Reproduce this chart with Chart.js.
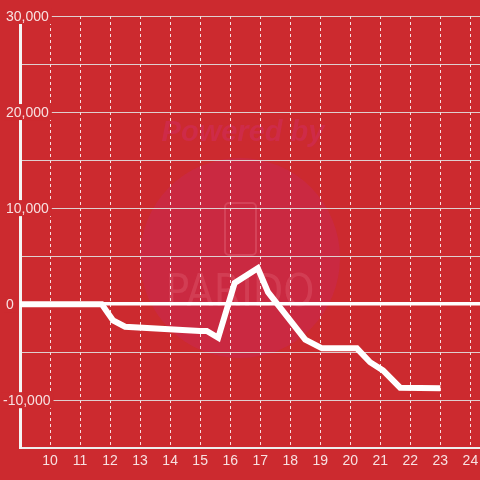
<!DOCTYPE html>
<html>
<head>
<meta charset="utf-8">
<script src="https://cdn.jsdelivr.net/npm/chart.js@4/dist/chart.umd.min.js"></script>
<style>
  html, body { margin: 0; padding: 0; background: #cc2a2f; }
  #wrap { width: 480px; height: 480px; }
</style>
</head>
<body>
<div id="wrap"><canvas id="chart"></canvas></div>
<script>
// hours of the day and running value at each sample
const hours = [9, 11.72, 12.1, 12.5, 15.0, 15.22, 15.6, 16.15, 16.92, 17.26, 18.5, 19.06, 20.22, 20.66, 21.09, 21.66, 23.0];
const values = [0, 0, -1700, -2350, -2800, -2800, -3500, 2200, 3750, 1250, -3700, -4600, -4600, -6050, -6900, -8700, -8750];
const yLabelValues = [30000, 20000, 10000, 0, -10000];

const bg = '#cc2a2f';
const labelColor = 'rgba(255,255,255,0.86)';

// faint "Powered by" watermark behind the grid
const watermark = {
  id: 'watermark',
  beforeDraw(chart) {
    const c = chart.ctx;
    c.save();
    c.fillStyle = bg;
    c.fillRect(0, 0, chart.width, chart.height);
    c.fillStyle = 'rgba(200,40,110,0.3)';
    c.beginPath();
    c.arc(240, 258, 100, 0, Math.PI * 2);
    c.fill();
    c.fillStyle = 'rgba(210,45,110,0.4)';
    c.font = 'italic bold 29px "Liberation Sans"';
    c.textAlign = 'center';
    c.textBaseline = 'alphabetic';
    c.fillText('Powered by', 243, 141);
    c.strokeStyle = 'rgba(255,170,180,0.2)';
    c.lineWidth = 2;
    c.beginPath();
    c.roundRect(225, 203, 31, 52, 4);
    c.stroke();
    c.fillStyle = 'rgba(255,170,180,0.16)';
    c.font = '44px "DejaVu Sans Condensed"';
    c.fillText('PARIDO', 240, 306);
    c.restore();
  }
};

// y labels sit on a red backdrop over the axis line
const yLabels = {
  id: 'yLabels',
  afterDraw(chart) {
    const c = chart.ctx;
    const y = chart.scales.y;
    c.save();
    c.font = '14px "Liberation Sans"';
    c.textBaseline = 'middle';
    c.textAlign = 'left';
    yLabelValues.forEach(v => {
      const py = y.getPixelForValue(v);
      const text = v.toLocaleString('en-US');
      const x = v < 0 ? 3 : 6;
      const w = c.measureText(text).width;
      c.fillStyle = bg;
      c.fillRect(x - 2, py - 8, w + 5, 16);
      c.fillStyle = labelColor;
      c.fillText(text, x, py + 1);
    });
    c.restore();
  }
};

new Chart(document.getElementById('chart'), {
  type: 'line',
  data: {
    datasets: [{
      data: hours.map((h, i) => ({ x: h, y: values[i] })),
      borderColor: '#ffffff',
      borderWidth: 6,
      pointRadius: 0,
      tension: 0,
      fill: false
    }]
  },
  options: {
    responsive: true,
    maintainAspectRatio: false,
    animation: false,
    layout: { padding: { left: 20, top: 16, right: 0, bottom: 10 } },
    plugins: {
      legend: { display: false },
      tooltip: { enabled: false }
    },
    scales: {
      x: {
        type: 'linear',
        min: 9,
        max: 24.32,
        grid: {
          color: 'rgba(255,255,255,0.85)',
          lineWidth: 1,
          drawTicks: true,
          tickLength: 5,
          tickColor: 'rgba(0,0,0,0)'
        },
        // in v4 border.dash also dashes the grid lines
        border: { color: '#eeeeee', width: 2, dash: [3, 3] },
        ticks: {
          stepSize: 1,
          includeBounds: false,
          padding: 0,
          color: labelColor,
          font: { family: '"Liberation Sans"', size: 14 },
          maxRotation: 0,
          callback: v => (v === 9 ? '' : v)
        }
      },
      y: {
        min: -15000,
        max: 30000,
        grid: {
          color: ctx => (ctx.tick && ctx.tick.value === 0 ? '#ffffff' : 'rgba(225,225,225,0.9)'),
          lineWidth: ctx => (ctx.tick && ctx.tick.value === 0 ? 3.5 : 1),
          drawTicks: false
        },
        border: { color: '#f5f5f5', width: 3 },
        ticks: {
          stepSize: 5000,
          display: false
        }
      }
    }
  },
  plugins: [watermark, yLabels]
});
</script>
</body>
</html>
